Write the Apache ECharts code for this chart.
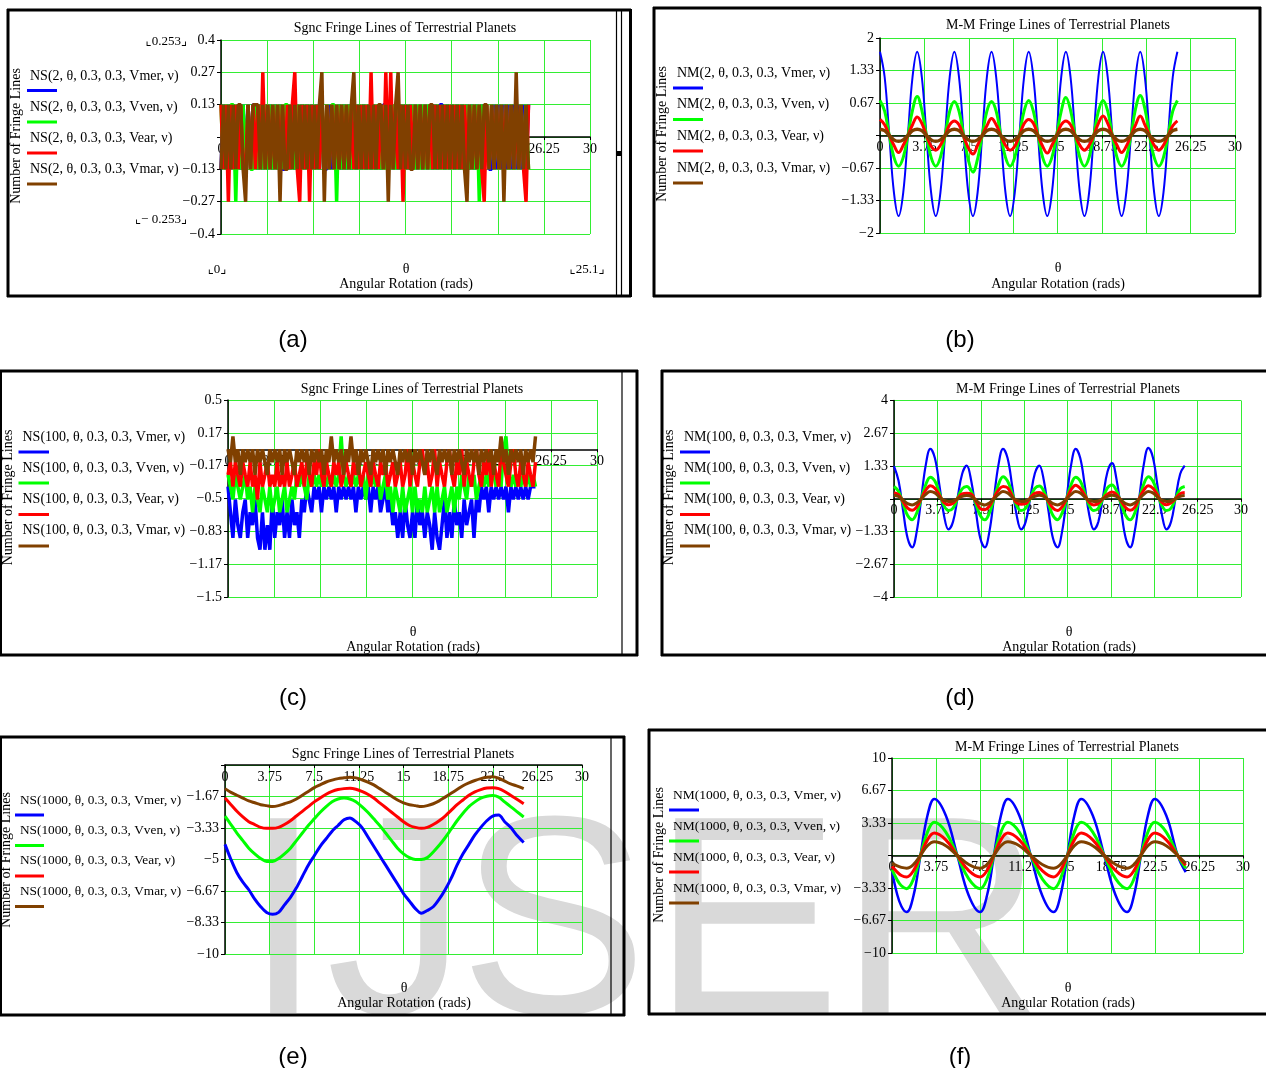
<!DOCTYPE html>
<html><head><meta charset="utf-8">
<script src="https://cdn.jsdelivr.net/npm/echarts@6/dist/echarts.min.js"></script>
<style>html,body{margin:0;padding:0;background:#fff;}#c{width:1266px;height:1068px;}</style>
</head><body><div id="c"></div>
<script>
// ================= DATA =================
const xTickLabels = ['0','3.75','7.5','11.25','15','18.75','22.5','26.25','30'];
const yTickLabelsA = ['−0.4','−0.27','−0.13','','0.13','0.27','0.4'];
const yTickLabelsB = ['−2','−1.33','−0.67','','0.67','1.33','2'];
const yTickLabelsC = ['−1.5','−1.17','−0.83','−0.5','−0.17','0.17','0.5'];
const yTickLabelsD = ['−4','−2.67','−1.33','','1.33','2.67','4'];
const yTickLabelsE = ['−10','−8.33','−6.67','−5','−3.33','−1.67',''];
const yTickLabelsF = ['−10','−6.67','−3.33','','3.33','6.67','10'];
const legendPlanets = ['Vmer','Vven','Vear','Vmar'];

// theta samples (rad) for the noisy Sgnc panels (a) and (c)
const thetaN = [
0,.2,.4,.6,.8,1,1.2,1.4,1.6,1.8,
2,2.2,2.4,2.6,2.8,3,3.2,3.4,3.6,3.8,
4,4.2,4.4,4.6,4.8,5,5.2,5.4,5.6,5.8,
6,6.2,6.4,6.6,6.8,7,7.2,7.4,7.6,7.8,
8,8.2,8.4,8.6,8.8,9,9.2,9.4,9.6,9.8,
10,10.2,10.4,10.6,10.8,11,11.2,11.4,11.6,11.8,
12,12.2,12.4,12.6,12.8,13,13.2,13.4,13.6,13.8,
14,14.2,14.4,14.6,14.8,15,15.2,15.4,15.6,15.8,
16,16.2,16.4,16.6,16.8,17,17.2,17.4,17.6,17.8,
18,18.2,18.4,18.6,18.8,19,19.2,19.4,19.6,19.8,
20,20.2,20.4,20.6,20.8,21,21.2,21.4,21.6,21.8,
22,22.2,22.4,22.6,22.8,23,23.2,23.4,23.6,23.8,
24,24.2,24.4,24.6,24.8,25];

// (a) NS(2, ...)
const nsMer2 = [
-.133,.133,-.133,.133,-.133,.133,-.133,.133,-.133,.133,
-.133,.133,-.133,.133,.133,-.133,.133,-.133,.133,-.133,
.133,-.133,.133,-.133,.133,-.133,-.133,.133,-.133,.133,
-.133,.133,-.133,.133,-.133,.133,-.133,.133,-.133,.133,
-.133,.133,-.133,-.133,.133,-.133,.133,-.133,.133,-.133,
.133,-.133,.133,-.133,.133,-.133,.133,-.133,.133,-.133,
.133,-.133,.133,-.133,.133,-.133,.133,.133,-.133,.133,
-.133,.133,-.133,.133,-.133,.133,-.133,.133,-.133,.133,
-.133,.133,-.133,.133,-.133,.133,-.133,.133,-.133,.133,
.133,-.133,.133,-.133,.133,-.133,.133,-.133,.133,-.133,
.133,-.133,.133,-.133,.133,-.133,.133,-.133,.133,-.133,
-.133,.133,-.133,.133,-.133,.133,-.133,.133,-.133,.133,
-.133,.133,-.133,.133,-.133,.133];
const nsVen2 = [
.133,-.133,.133,-.133,.133,.133,-.267,.133,-.133,.133,
-.133,.133,-.133,-.133,.133,-.133,.133,-.133,.133,-.133,
.133,-.133,.133,-.133,.133,-.133,.133,.133,-.133,.133,
-.133,.133,-.133,.133,-.133,.133,-.133,.133,-.133,.133,
-.133,.133,-.133,.133,-.133,.133,.133,-.267,.133,-.133,
.133,-.133,.133,-.133,.133,-.133,.133,-.133,.133,-.133,
.133,-.133,.133,-.133,.133,-.133,.133,-.133,.133,-.133,
.133,-.133,.133,-.133,.133,-.133,.133,-.133,.133,-.133,
.133,-.133,.133,-.133,.133,-.133,.133,-.133,.133,-.133,
.133,-.133,.133,-.133,.133,-.133,.133,-.133,.133,-.133,
.133,-.133,.133,-.133,.133,-.267,.133,-.133,.133,-.133,
.133,-.133,.133,-.133,.133,-.133,.133,-.133,.133,-.133,
.133,-.133,.133,-.133,.133,-.133];
const nsEar2 = [
.133,-.133,.133,-.267,.133,-.133,.133,-.133,.133,-.133,
-.133,.133,-.133,.133,-.133,.133,-.133,.267,-.133,.133,
-.133,.133,-.133,.133,-.133,.133,-.133,.133,-.133,.133,
.267,-.133,-.267,.133,-.133,.133,-.267,.133,-.133,.133,
-.133,.133,-.133,.133,-.133,.133,-.133,.133,-.133,.133,
-.133,.133,-.133,.133,-.133,.133,-.133,.133,-.133,.133,
-.133,.267,-.133,.133,-.133,.133,-.133,.267,-.133,.267,
-.133,.133,-.133,.133,-.267,.133,-.133,.133,-.133,.133,
-.133,.133,-.133,.133,-.133,.133,-.133,.133,-.133,.133,
-.133,.133,-.133,.133,-.133,.133,-.133,.133,-.133,.133,
-.133,.133,-.133,.133,-.133,.133,-.133,-.267,.133,-.133,
.133,-.133,.133,-.133,.133,-.133,.133,-.133,.133,-.133,
.133,-.133,.133,-.133,-.267,.133];
const nsMar2 = [
-.133,.133,-.133,.133,-.133,.133,-.133,.133,.133,-.133,
-.267,.133,-.133,.133,.133,.133,-.133,.133,-.133,.133,
-.133,.133,-.133,.133,-.267,.133,-.133,-.133,.133,-.133,
.133,-.133,.133,-.133,.133,-.133,.133,-.133,.133,-.133,
.133,.267,-.267,.133,-.133,.133,-.133,.133,-.133,.133,
-.133,.133,-.133,.133,.267,-.133,.133,-.133,.133,-.133,
.133,-.133,.133,-.133,.133,.133,-.133,.133,-.267,.133,
-.133,.133,.267,-.133,.133,-.133,.133,-.133,-.133,.133,
-.133,.133,-.133,.133,-.133,.133,.133,-.133,.133,-.133,
.133,-.133,.133,-.133,.133,-.133,.133,-.133,.133,-.133,
-.267,.133,-.133,.133,-.133,.133,-.133,.133,.133,-.133,
.133,-.133,.133,-.133,.133,-.267,.133,-.133,.133,-.133,
.267,-.133,.133,-.133,.133,-.133];

// theta samples for the M-M panels (b) and (d)
const thetaB = [
0,.393,.785,1.178,1.571,1.963,2.356,2.749,
3.142,3.534,3.927,4.32,4.712,5.105,5.498,5.89,
6.283,6.676,7.069,7.461,7.854,8.247,8.639,9.032,
9.425,9.817,10.21,10.603,10.996,11.388,11.781,12.174,
12.566,12.959,13.352,13.744,14.137,14.53,14.923,15.315,
15.708,16.101,16.493,16.886,17.279,17.671,18.064,18.457,
18.85,19.242,19.635,20.028,20.42,20.813,21.206,21.598,
21.991,22.384,22.777,23.169,23.562,23.955,24.347,24.74,
25.133];

// (b) NM(2, ...)
const nmMer2 = [
1.72,1.2,0,-1.17,-1.65,-1.17,0,1.2,
1.72,1.2,0,-1.17,-1.65,-1.17,0,1.2,
1.72,1.2,0,-1.17,-1.65,-1.17,0,1.2,
1.72,1.2,0,-1.17,-1.65,-1.17,0,1.2,
1.72,1.2,0,-1.17,-1.65,-1.17,0,1.2,
1.72,1.2,0,-1.17,-1.65,-1.17,0,1.2,
1.72,1.2,0,-1.17,-1.65,-1.17,0,1.2,
1.72,1.2,0,-1.17,-1.65,-1.17,0,1.2,
1.72];
const nmVen2 = [
.72,.5,0,-.45,-.63,-.45,0,.52,
.8,.52,0,-.45,-.63,-.45,0,.5,
.7,.5,0,-.5,-.75,-.48,0,.5,
.7,.5,0,-.45,-.63,-.45,0,.5,
.72,.5,0,-.45,-.63,-.45,0,.5,
.78,.52,0,-.45,-.63,-.45,0,.5,
.72,.5,0,-.45,-.63,-.45,0,.55,
.82,.55,0,-.45,-.63,-.45,0,.5,
.72];
const nmEar2 = [
.33,.22,0,-.2,-.35,-.2,0,.22,
.38,.25,0,-.22,-.3,-.2,0,.22,
.3,.22,-.02,-.25,-.38,-.2,0,.2,
.35,.22,0,-.2,-.3,-.22,0,.24,
.33,.25,0,-.22,-.36,-.2,0,.22,
.3,.22,0,-.2,-.3,-.2,0,.25,
.4,.25,0,-.2,-.35,-.22,0,.22,
.4,.22,0,-.2,-.3,-.2,0,.2,
.3];
const nmMar2 = [
.13,.1,0,-.09,-.12,-.09,0,.1,
.13,.1,0,-.09,-.12,-.09,0,.1,
.13,.1,0,-.09,-.12,-.09,0,.1,
.13,.1,0,-.09,-.12,-.09,0,.1,
.13,.1,0,-.09,-.12,-.09,0,.1,
.13,.1,0,-.09,-.12,-.09,0,.1,
.13,.1,0,-.09,-.12,-.09,0,.1,
.13,.1,0,-.09,-.12,-.09,0,.1,
.13];

// (c) NS(100, ...)
const nsMer100 = [
-.38,-.64,-.9,-.51,-.77,-.9,-.64,-.51,-.9,-.64,
-.77,-.51,-.9,-1.02,-.64,-1.02,-.77,-1.02,-.51,-.9,
-.64,-.77,-.51,-.9,-.64,-.9,-.51,-.77,-.64,-.9,
-.51,-.64,-.38,-.51,-.64,-.38,-.51,-.38,-.64,-.38,
-.51,-.38,-.51,-.38,-.64,-.38,-.51,-.38,-.51,-.38,
-.51,-.38,-.64,-.38,-.51,-.38,-.51,-.38,-.64,-.38,
-.51,-.38,-.64,-.51,-.38,-.64,-.51,-.77,-.64,-.9,
-.64,-.9,-.51,-.77,-.9,-.64,-.9,-.51,-.77,-.64,
-.9,-.64,-.77,-1.02,-.64,-.9,-1.02,-.77,-.51,-.9,
-.64,-.9,-.51,-.77,-.64,-.9,-.51,-.77,-.64,-.51,
-.9,-.51,-.64,-.38,-.51,-.38,-.64,-.38,-.51,-.38,
-.51,-.38,-.51,-.38,-.64,-.38,-.51,-.38,-.51,-.38,
-.51,-.38,-.51,-.38,-.38,-.38];
const nsVen100 = [
-.26,-.38,-.51,-.26,-.38,-.51,-.38,-.26,-.51,-.38,
-.64,-.38,-.51,-.64,-.38,-.51,-.64,-.38,-.64,-.51,
-.38,-.64,-.51,-.38,-.64,-.51,-.38,-.51,-.26,-.38,
-.26,-.38,-.51,-.26,-.38,-.26,-.38,-.26,-.38,-.26,
-.38,-.26,-.38,-.26,-.38,-.26,.13,-.26,-.38,-.26,
-.38,-.26,-.38,-.26,-.38,-.26,-.51,-.26,-.38,-.26,
-.38,-.26,-.51,-.38,-.26,-.51,-.38,-.64,-.38,-.51,
-.64,-.38,-.64,-.51,-.38,-.64,-.38,-.64,-.51,-.64,
-.38,-.64,-.51,-.38,-.64,-.38,-.64,-.51,-.38,-.64,
-.51,-.38,-.64,-.38,-.51,-.26,-.38,-.51,-.26,-.38,
-.26,-.51,-.38,-.26,-.38,-.26,-.38,-.13,-.26,-.38,
-.26,-.38,0,.13,-.26,-.38,-.26,-.38,-.26,-.38,
-.26,-.38,-.26,-.38,-.26,-.38];
const nsEar100 = [
-.26,-.13,-.38,-.13,-.26,-.38,-.13,-.26,-.38,-.13,
-.38,-.26,-.51,-.13,-.38,-.26,-.13,-.38,-.26,-.38,
-.13,-.38,-.26,-.38,-.13,-.38,-.26,-.13,-.38,-.26,
-.13,-.38,-.13,-.26,-.38,-.13,-.26,0,-.26,-.38,
-.13,-.26,-.38,-.13,-.26,-.13,-.38,-.26,-.13,-.26,
-.38,-.13,-.26,-.13,-.38,-.26,-.13,-.26,-.38,-.13,
-.26,-.38,-.13,-.26,-.13,-.38,-.26,-.13,-.38,-.26,
-.13,-.38,-.26,0,-.38,-.13,-.26,-.38,-.13,0,
-.26,-.13,-.38,-.26,0,-.38,-.13,-.26,-.38,-.13,
0,-.26,-.38,-.13,-.26,0,-.38,-.13,-.26,-.38,
-.13,0,-.26,-.38,-.13,-.26,0,-.38,-.13,-.26,
-.38,0,-.13,-.26,-.38,-.13,0,-.26,-.38,-.13,
-.26,-.38,-.13,-.26,-.38,-.13];
const nsMar100 = [
0,-.13,.13,-.13,0,-.26,0,-.13,0,-.13,
0,-.26,0,-.13,0,-.13,-.26,0,-.13,0,
-.13,0,-.26,0,-.13,0,-.13,-.26,0,-.13,
0,-.13,0,-.26,0,-.13,0,-.13,0,-.26,
0,-.13,.13,-.13,0,-.13,0,-.26,0,-.13,
.13,-.13,0,-.26,0,-.13,0,-.13,-.26,0,
-.13,0,-.13,0,-.26,0,-.13,0,-.13,-.26,
0,-.13,0,-.13,0,-.26,0,-.13,0,-.13,
-.26,0,-.13,0,-.13,-.26,0,-.13,0,-.13,
0,-.26,0,-.13,0,-.13,-.26,0,-.13,0,
-.13,0,-.26,0,-.13,0,-.13,0,-.26,0,
-.13,.13,-.13,0,-.26,0,-.13,0,-.13,0,
-.26,0,-.13,0,-.13,.13];

// (d) NM(100, ...)
const nmMer100 = [
1.33,.73,-.48,-1.61,-1.98,-1.34,.02,1.38,2.03,1.66,.54,-.67,-1.25,-.93,.04,1.01,
1.35,.73,-.48,-1.61,-1.98,-1.34,.02,1.38,2.03,1.66,.54,-.67,-1.25,-.93,.04,1.03,
1.35,.73,-.48,-1.61,-1.98,-1.34,.02,1.38,2.03,1.66,.54,-.67,-1.25,-.93,.06,1.1,
1.45,.78,-.46,-1.6,-1.98,-1.32,.04,1.4,2.07,1.68,.54,-.67,-1.25,-.93,.04,1.01,
1.35];
const nmVen100 = [
.5,.3,-.2,-.68,-.85,-.58,0,.58,.88,.72,.23,-.28,-.48,-.38,.02,.4,
.5,.3,-.2,-.68,-.86,-.58,0,.58,.9,.72,.23,-.28,-.48,-.38,.02,.42,
.52,.3,-.2,-.68,-.85,-.58,0,.58,.88,.72,.23,-.28,-.48,-.38,.02,.44,
.56,.32,-.2,-.68,-.86,-.58,0,.6,.9,.72,.23,-.28,-.48,-.38,.02,.4,
.5];
const nmEar100 = [
.25,.17,-.12,-.38,-.47,-.33,0,.35,.53,.43,.14,-.15,-.24,-.18,.01,.2,
.22,.19,-.1,-.4,-.45,-.3,.03,.35,.5,.45,.12,-.17,-.22,-.2,.04,.22,
.25,.15,-.12,-.38,-.48,-.33,0,.37,.55,.42,.14,-.15,-.25,-.18,.01,.18,
.27,.17,-.1,-.36,-.47,-.35,.02,.35,.53,.43,.16,-.15,-.24,-.16,.01,.2,
.25];
const nmMar100 = [
.14,.09,-.06,-.2,-.25,-.17,0,.18,.3,.24,.07,-.07,-.11,-.09,0,.1,
.13,.1,-.06,-.2,-.25,-.17,0,.18,.3,.24,.07,-.07,-.11,-.09,0,.1,
.14,.09,-.06,-.2,-.25,-.17,0,.18,.3,.24,.07,-.07,-.11,-.09,0,.1,
.14,.09,-.06,-.2,-.25,-.17,0,.18,.3,.24,.07,-.07,-.11,-.09,0,.1,
.13];

// theta samples for (e)
const thetaE = [
0,.5,1,1.5,2,2.5,3,3.5,4,4.5,
5,5.5,6,6.5,7,7.5,8,8.5,9,9.5,
10,10.5,11,11.5,12,12.5,13,13.5,14,14.5,
15,15.5,16,16.5,17,17.5,18,18.5,19,19.5,
20,20.5,21,21.5,22,22.5,23,23.5,24,24.5,
25.1];
// (e) NS(1000, ...)
const nsMer1000 = [
-4.2,-5.0,-5.7,-6.2,-6.6,-7.1,-7.5,-7.8,-7.9,-7.8,
-7.4,-7.0,-6.5,-5.9,-5.3,-4.8,-4.3,-3.9,-3.5,-3.2,
-2.9,-2.8,-3.0,-3.3,-3.8,-4.3,-4.8,-5.3,-5.8,-6.3,
-6.8,-7.2,-7.6,-7.85,-7.7,-7.5,-7.1,-6.6,-6.0,-5.3,
-4.7,-4.2,-3.7,-3.3,-2.95,-2.7,-2.65,-3.0,-3.3,-3.7,
-4.1];
const nsVen1000 = [
-2.7,-3.15,-3.6,-4.0,-4.4,-4.7,-4.95,-5.1,-5.1,-4.95,
-4.7,-4.4,-4.0,-3.6,-3.2,-2.85,-2.5,-2.2,-1.95,-1.8,
-1.75,-1.8,-1.95,-2.2,-2.5,-2.85,-3.2,-3.6,-4.0,-4.4,
-4.7,-4.9,-5.0,-5.0,-4.9,-4.6,-4.25,-3.85,-3.4,-2.95,
-2.55,-2.2,-1.95,-1.75,-1.65,-1.62,-1.7,-1.95,-2.2,-2.45,
-2.75];
const nsEar1000 = [
-1.75,-2.1,-2.45,-2.75,-3.0,-3.15,-3.3,-3.35,-3.35,-3.3,
-3.15,-2.95,-2.7,-2.45,-2.2,-1.95,-1.75,-1.55,-1.4,-1.3,
-1.25,-1.23,-1.28,-1.4,-1.55,-1.75,-2.0,-2.25,-2.5,-2.75,
-3.0,-3.2,-3.3,-3.35,-3.3,-3.15,-2.95,-2.7,-2.4,-2.1,
-1.85,-1.6,-1.42,-1.3,-1.22,-1.2,-1.25,-1.4,-1.6,-1.8,
-2.05];
const nsMar1000 = [
-1.25,-1.45,-1.6,-1.75,-1.9,-2.0,-2.1,-2.15,-2.2,-2.15,
-2.05,-1.95,-1.8,-1.6,-1.4,-1.2,-1.05,-.9,-.8,-.72,
-.68,-.65,-.68,-.78,-.9,-1.05,-1.25,-1.45,-1.65,-1.85,
-2.0,-2.1,-2.15,-2.2,-2.15,-2.05,-1.9,-1.7,-1.5,-1.3,
-1.1,-.95,-.82,-.72,-.65,-.62,-.7,-.85,-1.0,-1.1,
-1.25];

// theta samples for (f)
const thetaF = [0,.4,.8,1.25,1.84,2.43,3.03,3.62,4.6,5.58,6.56,7.53,8.12,8.71,9.31,9.9,10.88,11.86,12.84,13.81,14.4,14.99,15.59,16.18,17.16,18.14,19.12,20.09,20.68,21.27,21.87,22.46,23.44,24.42,25.1];
// (f) NM(1000, ...)
const nmMer1000 = [-1.6,-3.8,-5.2,-5.8,-4.1,0,4.1,5.8,4.1,0,-4.1,-5.8,-4.1,0,4.1,5.8,4.1,0,-4.1,-5.8,-4.1,0,4.1,5.8,4.1,0,-4.1,-5.8,-4.1,0,4.1,5.8,4.1,0,-1.7];
const nmVen1000 = [-1.45,-2.4,-3.1,-3.4,-2.4,0,2.4,3.4,2.4,0,-2.4,-3.4,-2.4,0,2.4,3.4,2.4,0,-2.4,-3.4,-2.4,0,2.4,3.4,2.4,0,-2.4,-3.4,-2.4,0,2.4,3.4,2.4,0,-1.3];
const nmEar1000 = [-1.1,-1.65,-2.05,-2.2,-1.55,0,1.6,2.3,1.6,0,-1.55,-2.2,-1.55,0,1.6,2.3,1.6,0,-1.55,-2.2,-1.55,0,1.6,2.3,1.6,0,-1.55,-2.2,-1.55,0,1.6,2.3,1.6,0,-1.0];
const nmMar1000 = [-0.8,-1.05,-1.22,-1.3,-.92,0,1.0,1.4,1.0,0,-.92,-1.3,-.92,0,1.0,1.4,1.0,0,-.92,-1.3,-.92,0,1.0,1.4,1.0,0,-.92,-1.3,-.92,0,1.0,1.4,1.0,0,-.8];

// ================= CHART =================
const COLORS = ['#0000ff','#00ff00','#ff0000','#804000'];
const GRID_GREEN = '#33ee33';
const SERIF = '"Liberation Serif","Times New Roman",serif';

const panels = [
 {grid:{left:221,top:40,width:369,height:194}, y:[-0.4,0.4,0.4/3], xoff:-97, yl:yTickLabelsA, th:thetaN,
  s:[nsMer2,nsVen2,nsEar2,nsMar2], w:[3.5,3.5,3.5,3.5], sm:false, fn:'NS', arg:'2', lf:14,
  title:'Sgnc Fringe Lines of Terrestrial Planets', tx:405, ty:28,
  lx:30, lys:[76,107,138,169], sx:[27,57], sys:[90.5,122,153,184], ytx:16, yty:136, thx:406, thy:269, ary:284, tag:'(a)', tgx:293, tgy:340},
 {grid:{left:880,top:38,width:355,height:195}, y:[-2,2,2/3], xoff:-97.5, yl:yTickLabelsB, th:thetaB,
  s:[nmMer2,nmVen2,nmEar2,nmMar2], w:[2,3,3,3.5], sm:0.4, fn:'NM', arg:'2', lf:14,
  title:'M-M Fringe Lines of Terrestrial Planets', tx:1058, ty:25,
  lx:677, lys:[73,104,136,168], sx:[673,703], sys:[88,119.5,151,183], ytx:662, yty:134, thx:1058, thy:268, ary:284, tag:'(b)', tgx:960, tgy:340},
 {grid:{left:228,top:400,width:369,height:197}, y:[-1.5,0.5,1/3], xoff:-147.75, yl:yTickLabelsC, th:thetaN,
  s:[nsMer100,nsVen100,nsEar100,nsMar100], w:[3.5,3.5,3.5,3.5], sm:false, fn:'NS', arg:'100', lf:14,
  title:'Sgnc Fringe Lines of Terrestrial Planets', tx:412, ty:389,
  lx:22.5, lys:[437,468,499.5,530.5], sx:[18.5,49], sys:[452,483,514.5,546], ytx:8.5, yty:497.5, thx:413, thy:632, ary:647, tag:'(c)', tgx:293, tgy:698},
 {grid:{left:894,top:400.5,width:347,height:196.5}, y:[-4,4,4/3], xoff:-98.25, yl:yTickLabelsD, th:thetaB,
  s:[nmMer100,nmVen100,nmEar100,nmMar100], w:[2.2,3,3,3], sm:0.4, fn:'NM', arg:'100', lf:14,
  title:'M-M Fringe Lines of Terrestrial Planets', tx:1068, ty:389,
  lx:684, lys:[437,468,499.5,530.5], sx:[680,710], sys:[452,483,514.5,546], ytx:669, yty:497.5, thx:1069, thy:632, ary:647, tag:'(d)', tgx:960, tgy:698},
 {grid:{left:225,top:765,width:357,height:189}, y:[-10,0,10/6], xoff:-189, yl:yTickLabelsE, th:thetaE,
  s:[nsMer1000,nsVen1000,nsEar1000,nsMar1000], w:[3,3,3,3], sm:0.3, fn:'NS', arg:'1000', lf:13.3,
  title:'Sgnc Fringe Lines of Terrestrial Planets', tx:403, ty:754,
  lx:20, lys:[801,830.5,861,892], sx:[15,44], sys:[815,845.5,876,906.5], ytx:6, yty:860, thx:404, thy:988, ary:1003, tag:'(e)', tgx:293, tgy:1057},
 {grid:{left:892,top:758,width:351,height:195}, y:[-10,10,10/3], xoff:-97.5, yl:yTickLabelsF, th:thetaF,
  s:[nmMer1000,nmVen1000,nmEar1000,nmMar1000], w:[2.5,3,3,3], sm:0.4, fn:'NM', arg:'1000', lf:13.5,
  title:'M-M Fringe Lines of Terrestrial Planets', tx:1067, ty:747,
  lx:673, lys:[795,826,857,888], sx:[669,699], sys:[810,841,872,903], ytx:659, yty:855, thx:1068, thy:988, ary:1003, tag:'(f)', tgx:960, tgy:1057}
];

function pairs(xs, ys){ return xs.map((x,i)=>[x, ys[i]]); }
function T(x,y,text,font,align,extra){
  return Object.assign({type:'text', x:x, y:y, z:20, silent:true,
    style:{text:text, font:font, fill:'#000', align:align||'left', verticalAlign:'middle', textAlign:align||'left', textVerticalAlign:'middle'}}, extra||{});
}
function L(x1,y1,x2,y2,w,c,z){
  return {type:'line', z:(z===undefined?20:z), silent:true, shape:{x1:x1,y1:y1,x2:x2,y2:y2}, style:{stroke:c||'#000', lineWidth:w||1}};
}

const grids=[], xAxes=[], yAxes=[], series=[], G=[];
panels.forEach((p,i)=>{
  grids.push(Object.assign({containLabel:false}, p.grid));
  xAxes.push({type:'value', gridIndex:i, min:0, max:30, interval:3.75, position:'bottom', offset:p.xoff,
    axisLine:{show:true, onZero:false, lineStyle:{color:'#000', width:1.5}},
    axisTick:{show:true, length:3, lineStyle:{color:'#000'}},
    axisLabel:{color:'#000', fontFamily:'Liberation Serif', fontSize:14, margin:5,
      formatter:(v)=>xTickLabels[Math.round(v/3.75)]||''},
    splitLine:{show:true, lineStyle:{color:GRID_GREEN, width:1}}});
  const ymin=p.y[0], yint=p.y[2];
  yAxes.push({type:'value', gridIndex:i, min:p.y[0], max:p.y[1], interval:p.y[2],
    axisLine:{show:true, onZero:false, lineStyle:{color:'#000', width:1.5}},
    axisTick:{show:true, length:4, lineStyle:{color:'#000'}},
    axisLabel:{color:'#000', fontFamily:'Liberation Serif', fontSize:14, margin:6,
      formatter:(v)=>{const k=Math.round((v-ymin)/yint); return p.yl[k]!==undefined?p.yl[k]:'';}},
    splitLine:{show:true, lineStyle:{color:GRID_GREEN, width:1}}});
  p.s.forEach((vals,j)=>{
    series.push({type:'line', xAxisIndex:i, yAxisIndex:i, data:pairs(p.th, vals),
      symbol:'none', showSymbol:false, smooth:p.sm, silent:true, animation:false,
      lineStyle:{color:COLORS[j], width:p.w[j]}, itemStyle:{color:COLORS[j]}});
  });
  // texts
  G.push(T(p.tx, p.ty, p.title, '14px '+SERIF, 'center'));
  legendPlanets.forEach((pl,j)=>{
    G.push(T(p.lx, p.lys[j], p.fn+'('+p.arg+', θ, 0.3, 0.3, '+pl+', ν)', p.lf+'px '+SERIF, 'left'));
    G.push(L(p.sx[0], p.sys[j], p.sx[1], p.sys[j], 3, COLORS[j]));
  });
  G.push(T(p.ytx, p.yty, 'Number of Fringe Lines', '14px '+SERIF, 'center', {rotation:Math.PI/2}));
  G.push(T(p.thx, p.thy, 'θ', '14px '+SERIF, 'center'));
  G.push(T(p.thx, p.ary, 'Angular Rotation (rads)', '14px '+SERIF, 'center'));
  G.push(T(p.tgx, p.tgy, p.tag, '24px "Liberation Sans","Open Sans",sans-serif', 'center'));
});

// Mathcad range markers in (a)
const MK = '13px "Liberation Serif","DejaVu Sans",serif';
G.push(T(187, 42, '⌞0.253⌟', MK, 'right'));
G.push(T(187, 220, '⌞− 0.253⌟', MK, 'right'));
G.push(T(217, 270, '⌞0⌟', MK, 'center'));
G.push(T(587, 270, '⌞25.1⌟', MK, 'center'));

// Frames
// (a)
G.push(L(7,10,631,10,3)); G.push(L(8,9,8,297,3)); G.push(L(7,296,631,296,3)); G.push(L(630.5,9,630.5,297,3));
G.push(L(616.5,10,616.5,296,1.2)); G.push(L(621.5,10,621.5,296,1.2));
G.push({type:'rect', z:20, silent:true, shape:{x:617,y:151,width:5,height:5}, style:{fill:'#000'}});
// (b)
G.push(L(653,8,1261,8,3)); G.push(L(654,7,654,297,3)); G.push(L(653,296,1261,296,3)); G.push(L(1260,7,1260,297,3));
// (c)
G.push(L(0,371,638,371,3)); G.push(L(0,655,638,655,3)); G.push(L(1,370,1,656,2));
G.push(L(622,371,622,655,1.2)); G.push(L(637,370,637,656,3));
// (d)
G.push(L(661,371,1266,371,3)); G.push(L(662,370,662,656,3)); G.push(L(661,655,1266,655,3));
// (e)
G.push(L(0,737,625,737,3)); G.push(L(0,1015,625,1015,3)); G.push(L(1,736,1,1016,2));
G.push(L(611,737,611,1015,1.2)); G.push(L(624,736,624,1016,3));
// (f)
G.push(L(648,730,1266,730,3)); G.push(L(649,729,649,1015,3)); G.push(L(648,1014,1266,1014,3));

// Watermark
[['I',244],['J',326],['S',459],['E',652],['R',839]].forEach(([ch,x])=>{
  G.push({type:'text', x:x, y:935, z:-10, silent:true,
    style:{text:ch, font:'283px "Liberation Sans",Arial,sans-serif', fill:'#d9d9d9', align:'left', verticalAlign:'middle', textAlign:'left', textVerticalAlign:'middle'}});
});

const chart = echarts.init(document.getElementById('c'), null, {renderer:'canvas'});
chart.setOption({
  animation:false,
  backgroundColor:'transparent',
  grid:grids, xAxis:xAxes, yAxis:yAxes, series:series,
  graphic:{elements:G}
});
</script>
</body></html>
